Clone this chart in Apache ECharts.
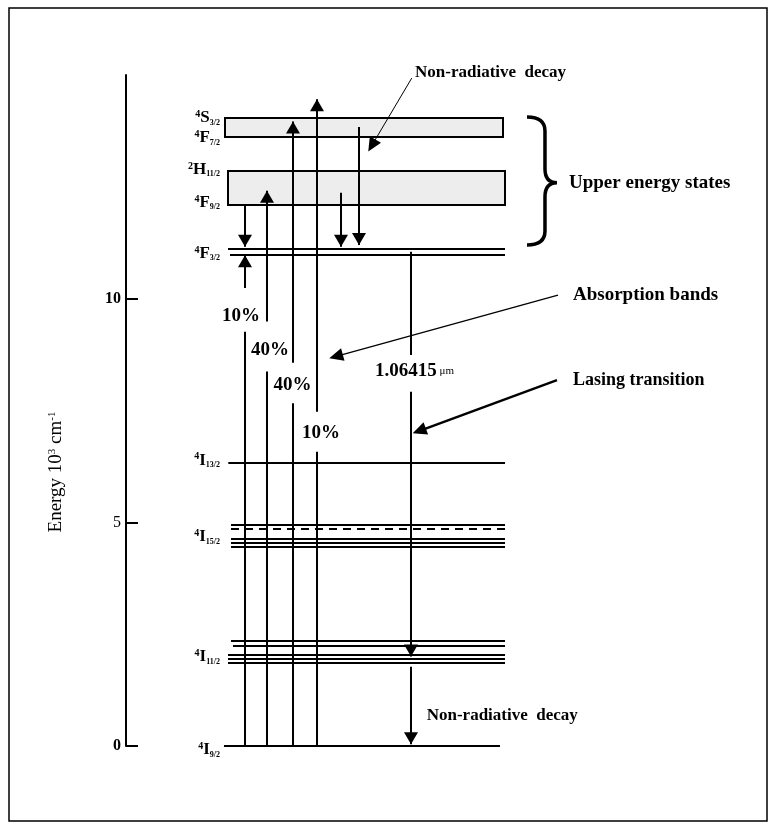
<!DOCTYPE html>
<html><head><meta charset="utf-8">
<script src="https://cdn.jsdelivr.net/npm/echarts/dist/echarts.min.js"></script>
<style>html,body{margin:0;padding:0;background:#fff}#c{width:771px;height:829px}</style>
</head><body><div id="c"></div>
<script>
// ---------- DATA (energies in 10^3 cm^-1) ----------
const yTickValues = [0, 5, 10];
const groundLevel = [0];                              // 4I9/2
const i11Levels = [2.34, 2.24, 2.03, 1.94, 1.85];     // 4I11/2 manifold
const i15Levels = [4.95, 4.62, 4.54, 4.45];           // 4I15/2 manifold
const i15DashedLevel = [4.86];
const i13Level = [6.33];                              // 4I13/2
const f32Levels = [11.11, 10.97];                     // 4F3/2
const bandLow = [13.62, 12.08];                       // absorption bands (bottom)
const bandHigh = [14.04, 12.85];                      // absorption bands (top)

const pumpPercent = ['10%', '40%', '40%', '10%'];
const pumpTop = [10.97, 12.41, 13.96, 14.46];
const pumpGapLow = [9.26, 8.37, 7.66, 6.58];
const pumpGapHigh = [10.24, 9.49, 8.57, 7.47];
const pumpLabelE = [9.6, 8.85, 8.07, 7.0];

const decayFrom = [12.07, 12.37, 13.84];
const decayTo = [11.16, 11.16, 11.2];

const laserSegFrom = [11.05, 7.92, 1.77];
const laserSegTo = [8.74, 2.0, 0.04];
const laserHead = [0, 1, 1];
const laserLabel = '1.06415';
const laserLabelE = 8.37;

const levelNames = ['{sup|4}{m|S}{sub|3/2}', '{sup|4}{m|F}{sub|7/2}', '{sup|2}{m|H}{sub|11/2}', '{sup|4}{m|F}{sub|9/2}',
  '{sup|4}{m|F}{sub|3/2}', '{sup|4}{m|I}{sub|13/2}', '{sup|4}{m|I}{sub|15/2}', '{sup|4}{m|I}{sub|11/2}', '{sup|4}{m|I}{sub|9/2}'];
const levelNameE = [14.04, 13.59, 12.88, 12.14, 11.0, 6.39, 4.67, 1.99, -0.09];

const noteTexts = ['Non-radiative  decay', 'Upper energy states', 'Absorption bands', 'Lasing transition', 'Non-radiative  decay'];
const noteE = [15.05, 12.59, 10.08, 8.18, 0.69];

const leaderFromE = [14.93, 10.08, 8.18];
const leaderToE = [13.29, 8.67, 6.99];

const braceTopE = 14.06, braceBottomE = 11.2, braceTipE = 12.59;

// ---------- LAYOUT (horizontal positions in 0..100 units, styles) ----------
const LX = { bandX1: [16.5, 16.95], bandX2: [62.83, 63.17] };
const lineEnd = 63.17;
const pumpX = [19.83, 23.45, 27.78, 31.78];
const pumpLabelX = [19.17, 24, 27.75, 32.5];
const decayX = [19.83, 35.83, 38.88];
const laserX = 47.5, laserLabelX = 41.5;
const labelRightX = 15.67;
const noteX = [48.17, 73.83, 74.5, 74.5, 50.12];
const noteSize = [17, 19, 19, 18, 17];
const leaderFromX = [47.62, 72, 71.83];
const leaderToX = [40.38, 33.88, 47.78];
const leaderW = [1, 1.3, 2.4];
const braceX0 = 66.83, braceSpine = 69.83, braceTip = 71.83;

const SERIF = '"Liberation Serif", "DejaVu Serif", serif';

// level lines rows: [x1, x2, E, dashed]
const levelRows = [];
groundLevel.forEach(e => levelRows.push([16.33, 62.33, e, 0]));
i11Levels.forEach((e, i) => levelRows.push([[17.5, 17.83, 17, 17, 17][i], lineEnd, e, 0]));
i15Levels.forEach(e => levelRows.push([17.5, lineEnd, e, 0]));
i15DashedLevel.forEach(e => levelRows.push([17.5, lineEnd, e, 1]));
i13Level.forEach(e => levelRows.push([17.05, lineEnd, e, 0]));
f32Levels.forEach((e, i) => levelRows.push([[17, 17.33][i], lineEnd, e, 0]));

const bandRows = bandLow.map((e, i) => [LX.bandX1[i], LX.bandX2[i], e, bandHigh[i]]);

// arrows: [x, E1, E2, head]
const arrowRows = [];
pumpTop.forEach((t, i) => {
  arrowRows.push([pumpX[i], 0, pumpGapLow[i], 0]);
  arrowRows.push([pumpX[i], pumpGapHigh[i], t, 1]);
});
decayFrom.forEach((f, i) => arrowRows.push([decayX[i], f, decayTo[i], 1]));
laserSegFrom.forEach((f, i) => arrowRows.push([laserX, f, laserSegTo[i], laserHead[i]]));

const leaderRows = leaderFromE.map((e, i) => [leaderFromX[i], e, leaderToX[i], leaderToE[i], leaderW[i]]);

// texts
const textRows = [];
const textSpecs = [];
levelNames.forEach((t, i) => { textRows.push([labelRightX, levelNameE[i]]); textSpecs.push({ t, align: 'right' }); });
pumpPercent.forEach((t, i) => { textRows.push([pumpLabelX[i], pumpLabelE[i]]); textSpecs.push({ t: '{p|' + t + '}', align: 'center' }); });
textRows.push([laserLabelX, laserLabelE]); textSpecs.push({ t: '{w|' + laserLabel + '}{u| μm}', align: 'left' });
noteTexts.forEach((t, i) => { textRows.push([noteX[i], noteE[i]]); textSpecs.push({ t: '{n' + noteSize[i] + '|' + t + '}', align: 'left' }); });

const richStyles = {
  m: { font: 'bold 17px ' + SERIF, fill: '#000', verticalAlign: 'middle' },
  sup: { font: 'bold 10px ' + SERIF, fill: '#000', verticalAlign: 'top' },
  sub: { font: 'bold 8px ' + SERIF, fill: '#000', verticalAlign: 'bottom', padding: [8, 0, 0, 0] },
  p: { font: 'bold 19px ' + SERIF, fill: '#000' },
  w: { font: 'bold 19px ' + SERIF, fill: '#000' },
  u: { font: '11px ' + SERIF, fill: '#000' }
};
[15, 16, 17, 18, 19, 20].forEach(s => { richStyles['n' + s] = { font: 'bold ' + s + 'px ' + SERIF, fill: '#000' }; });

function head(tip, dir, len, hw) {
  const [dx, dy] = dir; const px = -dy, py = dx;
  const bx = tip[0] - dx * len, by = tip[1] - dy * len;
  return [[tip[0], tip[1]], [bx + px * hw, by + py * hw], [bx - px * hw, by - py * hw]];
}

const chart = echarts.init(document.getElementById('c'), null, { renderer: 'canvas' });
chart.setOption({
  animation: false,
  backgroundColor: '#fff',
  grid: { left: 126, top: 75, width: 600, height: 671, containLabel: false },
  xAxis: { type: 'value', min: 0, max: 100, show: false },
  yAxis: {
    type: 'value', min: 0, max: 15, interval: 5,
    splitLine: { show: false },
    axisLine: { show: true, lineStyle: { color: '#000', width: 2 } },
    axisTick: { show: true, inside: true, length: 12, customValues: yTickValues, lineStyle: { color: '#000', width: 2 } },
    axisLabel: {
      margin: 5, color: '#000', fontFamily: SERIF, fontSize: 16, fontWeight: 'bold',
      customValues: yTickValues,
      formatter: v => v === 5 ? '{t|5}' : String(v),
      rich: { t: { fontFamily: SERIF, fontSize: 16, fontWeight: 'normal', color: '#000' } }
    }
  },
  graphic: [
    { type: 'rect', shape: { x: 9, y: 8, width: 758, height: 813 }, style: { fill: 'none', stroke: '#000', lineWidth: 1.5 }, silent: true },
    { type: 'text', x: 56, y: 472, rotation: Math.PI / 2,
      style: { text: '{a|Energy 10}{s|3}{a| cm}{s|-1}', align: 'center', verticalAlign: 'middle',
        rich: { a: { font: '19px ' + SERIF, fill: '#000' }, s: { font: '11px ' + SERIF, fill: '#000', verticalAlign: 'top' } } } }
  ],
  series: [
    { type: 'custom', clip: false, data: bandRows, z: 2,
      renderItem: (p, api) => {
        const a = api.coord([api.value(0), api.value(3)]), b = api.coord([api.value(1), api.value(2)]);
        return { type: 'rect', shape: { x: Math.round(a[0]), y: Math.round(a[1]), width: Math.round(b[0] - a[0]), height: Math.round(b[1] - a[1]) },
          style: { fill: '#ededed', stroke: '#000', lineWidth: 2 } };
      } },
    { type: 'custom', clip: false, data: levelRows, z: 3,
      renderItem: (p, api) => {
        const a = api.coord([api.value(0), api.value(2)]), b = api.coord([api.value(1), api.value(2)]);
        const y = Math.round(a[1]);
        return { type: 'line', shape: { x1: a[0], y1: y, x2: b[0], y2: y },
          style: { stroke: '#000', lineWidth: 2, lineDash: api.value(3) ? [8, 6] : null } };
      } },
    { type: 'custom', clip: false, data: arrowRows, z: 4,
      renderItem: (p, api) => {
        const x = Math.round(api.coord([api.value(0), 0])[0]);
        const y1 = api.coord([0, api.value(1)])[1], y2 = api.coord([0, api.value(2)])[1];
        const children = [{ type: 'line', shape: { x1: x, y1: y1, x2: x, y2: y2 }, style: { stroke: '#000', lineWidth: 2 } }];
        if (api.value(3)) {
          const dir = [0, y2 > y1 ? 1 : -1];
          children.push({ type: 'polygon', shape: { points: head([x, y2], dir, 12, 7) }, style: { fill: '#000' } });
        }
        return { type: 'group', children };
      } },
    { type: 'custom', clip: false, data: leaderRows, z: 4,
      renderItem: (p, api) => {
        const a = api.coord([api.value(0), api.value(1)]), b = api.coord([api.value(2), api.value(3)]);
        const L = Math.hypot(b[0] - a[0], b[1] - a[1]);
        const dir = [(b[0] - a[0]) / L, (b[1] - a[1]) / L];
        return { type: 'group', children: [
          { type: 'line', shape: { x1: a[0], y1: a[1], x2: b[0] - dir[0] * 8, y2: b[1] - dir[1] * 8 }, style: { stroke: '#000', lineWidth: api.value(4) } },
          { type: 'polygon', shape: { points: head(b, dir, 14, 6.5) }, style: { fill: '#000' } }
        ] };
      } },
    { type: 'custom', clip: false, data: [[braceX0, braceTopE, braceBottomE, braceTipE]], z: 4,
      renderItem: (p, api) => {
        const x0 = api.coord([api.value(0), 0])[0], xs = api.coord([braceSpine, 0])[0], xt = api.coord([braceTip, 0])[0];
        const yT = api.coord([0, api.value(1)])[1], yB = api.coord([0, api.value(2)])[1], yM = api.coord([0, api.value(3)])[1];
        const r = 14;
        const d = `M${x0} ${yT} Q${xs} ${yT} ${xs} ${yT + r} L${xs} ${yM - r} Q${xs} ${yM} ${xt} ${yM} Q${xs} ${yM} ${xs} ${yM + r} L${xs} ${yB - r} Q${xs} ${yB} ${x0} ${yB}`;
        return { type: 'path', shape: { pathData: d }, style: { stroke: '#000', lineWidth: 3.5, fill: 'none' } };
      } },
    { type: 'custom', clip: false, data: textRows, z: 5,
      renderItem: (p, api) => {
        const s = textSpecs[p.dataIndex];
        const c = api.coord([api.value(0), api.value(1)]);
        return { type: 'text', x: c[0], y: c[1],
          style: { text: s.t, rich: richStyles, align: s.align, verticalAlign: 'middle', fill: '#000' } };
      } }
  ]
});
</script></body></html>
